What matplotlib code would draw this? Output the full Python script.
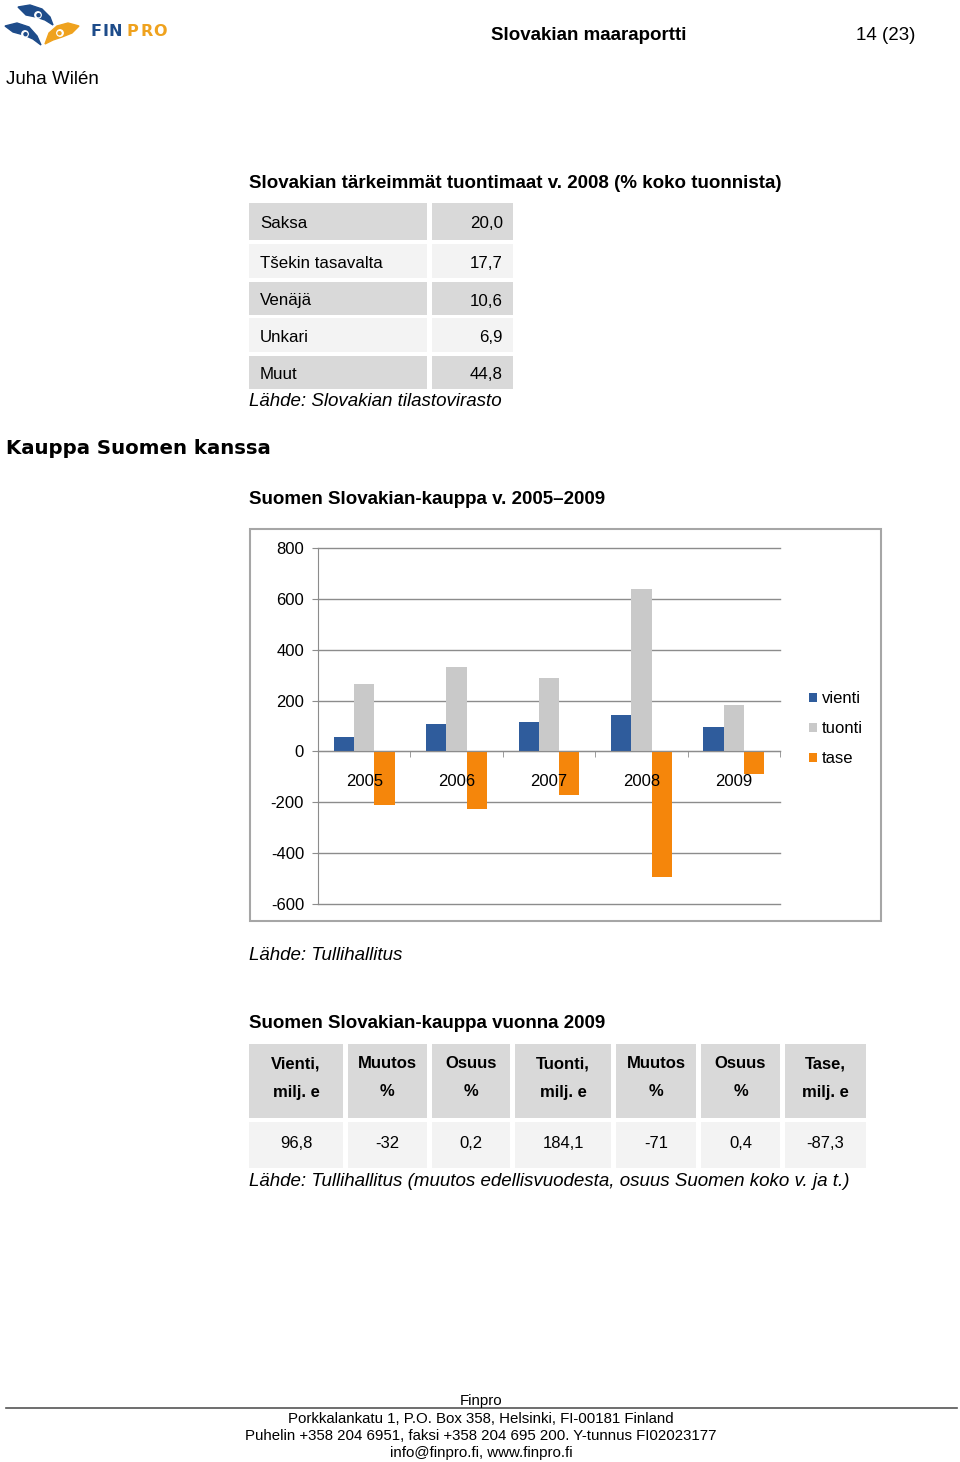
import matplotlib
matplotlib.use('Agg')
import matplotlib.pyplot as plt
import numpy as np
from matplotlib.patches import Rectangle, Polygon, Circle

plt.rcParams['font.family'] = ['Liberation Sans', 'DejaVu Sans']

# Table 1: main import partners 2008
partners = ['Saksa', 'Tšekin tasavalta', 'Venäjä', 'Unkari', 'Muut']
shares = ['20,0', '17,7', '10,6', '6,9', '44,8']

# Chart: trade 2005-2009 (milj. e)
years = ['2005', '2006', '2007', '2008', '2009']
vienti = [57, 106, 116, 143, 97]
tuonti = [267, 331, 288, 638, 184]
tase = [-210, -225, -172, -495, -87]
yticks = [-600, -400, -200, 0, 200, 400, 600, 800]

# Table 2: trade 2009
headers = ['Vienti,\nmilj. e', 'Muutos\n%', 'Osuus\n%', 'Tuonti,\nmilj. e',
           'Muutos\n%', 'Osuus\n%', 'Tase,\nmilj. e']
values_2009 = ['96,8', '-32', '0,2', '184,1', '-71', '0,4', '-87,3']

footer = ['Porkkalankatu 1, P.O. Box 358, Helsinki, FI-00181 Finland',
          'Puhelin +358 204 6951, faksi +358 204 695 200. Y-tunnus FI02023177',
          'info@finpro.fi, www.finpro.fi']

W, H = 960, 1462
BLUE = '#2F5C9C'
GRAY = '#C9C9C9'
ORANGE = '#F5860B'
DARK = '#D9D9D9'
LIGHT = '#F3F3F3'
LOGO_BLUE = '#1E4C8A'
LOGO_ORANGE = '#EFA21E'


def fx(x):
    return x / W


def fy(y):
    return 1 - y / H


def txt(x, y, s, **kw):
    kw.setdefault('va', 'center')
    kw.setdefault('fontsize', 13.5)
    fig.text(fx(x), fy(y + 2), s, **kw)


def cell(x0, y0, x1, y1, color):
    fig.patches.append(Rectangle((fx(x0), fy(y1)), fx(x1) - fx(x0), fy(y0) - fy(y1),
                                 transform=fig.transFigure, facecolor=color,
                                 edgecolor='none', zorder=0))


fig = plt.figure(figsize=(9.6, 14.62), dpi=100)

# --- logo ---
lax = fig.add_axes([0, fy(50), fx(90), 50 / H])
lax.set_xlim(0, 90)
lax.set_ylim(50, 0)
lax.axis('off')
lax.add_patch(Polygon([(18, 7), (30, 5), (42, 9), (50, 17), (53, 25), (45, 20),
                       (36, 17), (26, 15)], closed=True, color=LOGO_BLUE))
lax.add_patch(Circle((38, 15), 3.2, color='white'))
lax.add_patch(Circle((38.5, 15.2), 1.5, color=LOGO_BLUE))
lax.add_patch(Polygon([(5, 26), (17, 23), (29, 27), (37, 36), (41, 45), (33, 39),
                       (24, 35), (13, 32)], closed=True, color=LOGO_BLUE))
lax.add_patch(Circle((25, 34), 3.2, color='white'))
lax.add_patch(Circle((25.5, 34.2), 1.5, color=LOGO_BLUE))
lax.add_patch(Polygon([(79, 26), (68, 23), (57, 26), (49, 33), (45, 44), (53, 40),
                       (62, 37), (72, 33)], closed=True, color=LOGO_ORANGE))
lax.add_patch(Circle((60, 33), 3.2, color='white'))
lax.add_patch(Circle((59.5, 33.2), 1.5, color=LOGO_ORANGE))
for ch, lx in zip('FINPRO', [90, 102.5, 109, 127, 140, 153]):
    fig.text(fx(lx), fy(32), ch, fontsize=11.5, fontweight='bold',
             color=LOGO_BLUE if lx < 125 else LOGO_ORANGE,
             family='DejaVu Sans', va='center')

# --- header ---
txt(589, 34, 'Slovakian maaraportti', fontweight='bold', ha='center')
txt(886, 34, '14 (23)', ha='center')
txt(6, 78, 'Juha Wilén')

# --- table 1 ---
txt(249, 181, 'Slovakian tärkeimmät tuontimaat v. 2008 (% koko tuonnista)', fontweight='bold')
row_y = [(203, 240), (244, 278), (282, 315), (318, 352), (356, 389)]
text_y = [222, 262, 299, 336, 373]
for i, (name, val) in enumerate(zip(partners, shares)):
    c = DARK if i % 2 == 0 else LIGHT
    cell(249, row_y[i][0], 427, row_y[i][1], c)
    cell(432, row_y[i][0], 513, row_y[i][1], c)
    txt(260, text_y[i], name, fontsize=12.2)
    txt(503, text_y[i], val, fontsize=12.2, ha='right')
txt(249, 399, 'Lähde: Slovakian tilastovirasto', style='italic')

txt(6, 447, 'Kauppa Suomen kanssa', fontweight='bold', family='DejaVu Sans', fontsize=14.2)

# --- chart ---
txt(249, 498, 'Suomen Slovakian-kauppa v. 2005–2009', fontweight='bold')
fig.patches.append(Rectangle((fx(250), fy(921)), fx(881) - fx(250), fy(529) - fy(921),
                             transform=fig.transFigure, facecolor='none',
                             edgecolor='#A6A6A6', linewidth=1.5))

ax = fig.add_axes([fx(318), fy(904), fx(780) - fx(318), (904 - 548) / H])
ax.set_axisbelow(False)
x = np.arange(len(years))
w = 0.22
ax.bar(x - w, vienti, w, color=BLUE, label='vienti', zorder=1)
ax.bar(x, tuonti, w, color=GRAY, label='tuonti', zorder=1)
ax.bar(x + w, tase, w, color=ORANGE, label='tase', zorder=1)
for t in yticks:
    ax.axhline(t, color='#8C8C8C', linewidth=1, zorder=0.5, clip_on=False)
ax.set_xlim(-0.5, len(years) - 0.5)
ax.set_ylim(yticks[0], yticks[-1])
ax.set_yticks(yticks)
ax.set_yticklabels([str(t) for t in yticks])
ax.tick_params(axis='y', length=4, color='#8C8C8C', labelsize=12, pad=6)
for s in ['top', 'right']:
    ax.spines[s].set_visible(False)
ax.spines['left'].set_color('#8C8C8C')
ax.spines['bottom'].set_position(('data', 0))
ax.spines['bottom'].set_color('#8C8C8C')
ax.set_xticks(x)
ax.set_xticklabels(years)
ax.set_xticks(np.arange(len(years) + 1) - 0.5, minor=True)
ax.tick_params(axis='x', which='major', length=0, labelsize=12, pad=16)
ax.tick_params(axis='x', which='minor', length=4, color='#8C8C8C')
ax.patch.set_visible(False)
ax.legend(loc='upper left', bbox_to_anchor=(fx(801), fy(683)), bbox_transform=fig.transFigure,
          frameon=False, borderpad=0, handlelength=0.45, handleheight=0.45,
          handletextpad=0.3, labelspacing=0.9, fontsize=12)

txt(249, 953, 'Lähde: Tullihallitus', style='italic')

# --- table 2 ---
txt(249, 1021, 'Suomen Slovakian-kauppa vuonna 2009', fontweight='bold')
cols = [(249, 343), (348, 427), (432, 510), (515, 611), (616, 696), (701, 780), (785, 866)]
for (x0, x1), head, val in zip(cols, headers, values_2009):
    cell(x0, 1044, x1, 1118, DARK)
    cell(x0, 1122, x1, 1168, LIGHT)
    cx = (x0 + x1) / 2
    l1, l2 = head.split('\n')
    txt(cx, 1062, l1, fontweight='bold', fontsize=12, ha='center')
    txt(cx, 1090, l2, fontweight='bold', fontsize=12, ha='center')
    txt(cx, 1141, val, fontsize=12, ha='center')
txt(249, 1180, 'Lähde: Tullihallitus (muutos edellisvuodesta, osuus Suomen koko v. ja t.)',
    style='italic')

# --- footer ---
txt(481, 1399, 'Finpro', fontsize=10.8, ha='center')
fig.add_artist(plt.Line2D([fx(6), fx(957)], [fy(1408), fy(1408)], color='#555555', linewidth=1.2))
for i, line in enumerate(footer):
    txt(481, 1417 + 17 * i, line, fontsize=10.8, ha='center')

fig.savefig('out.png', dpi=100)
